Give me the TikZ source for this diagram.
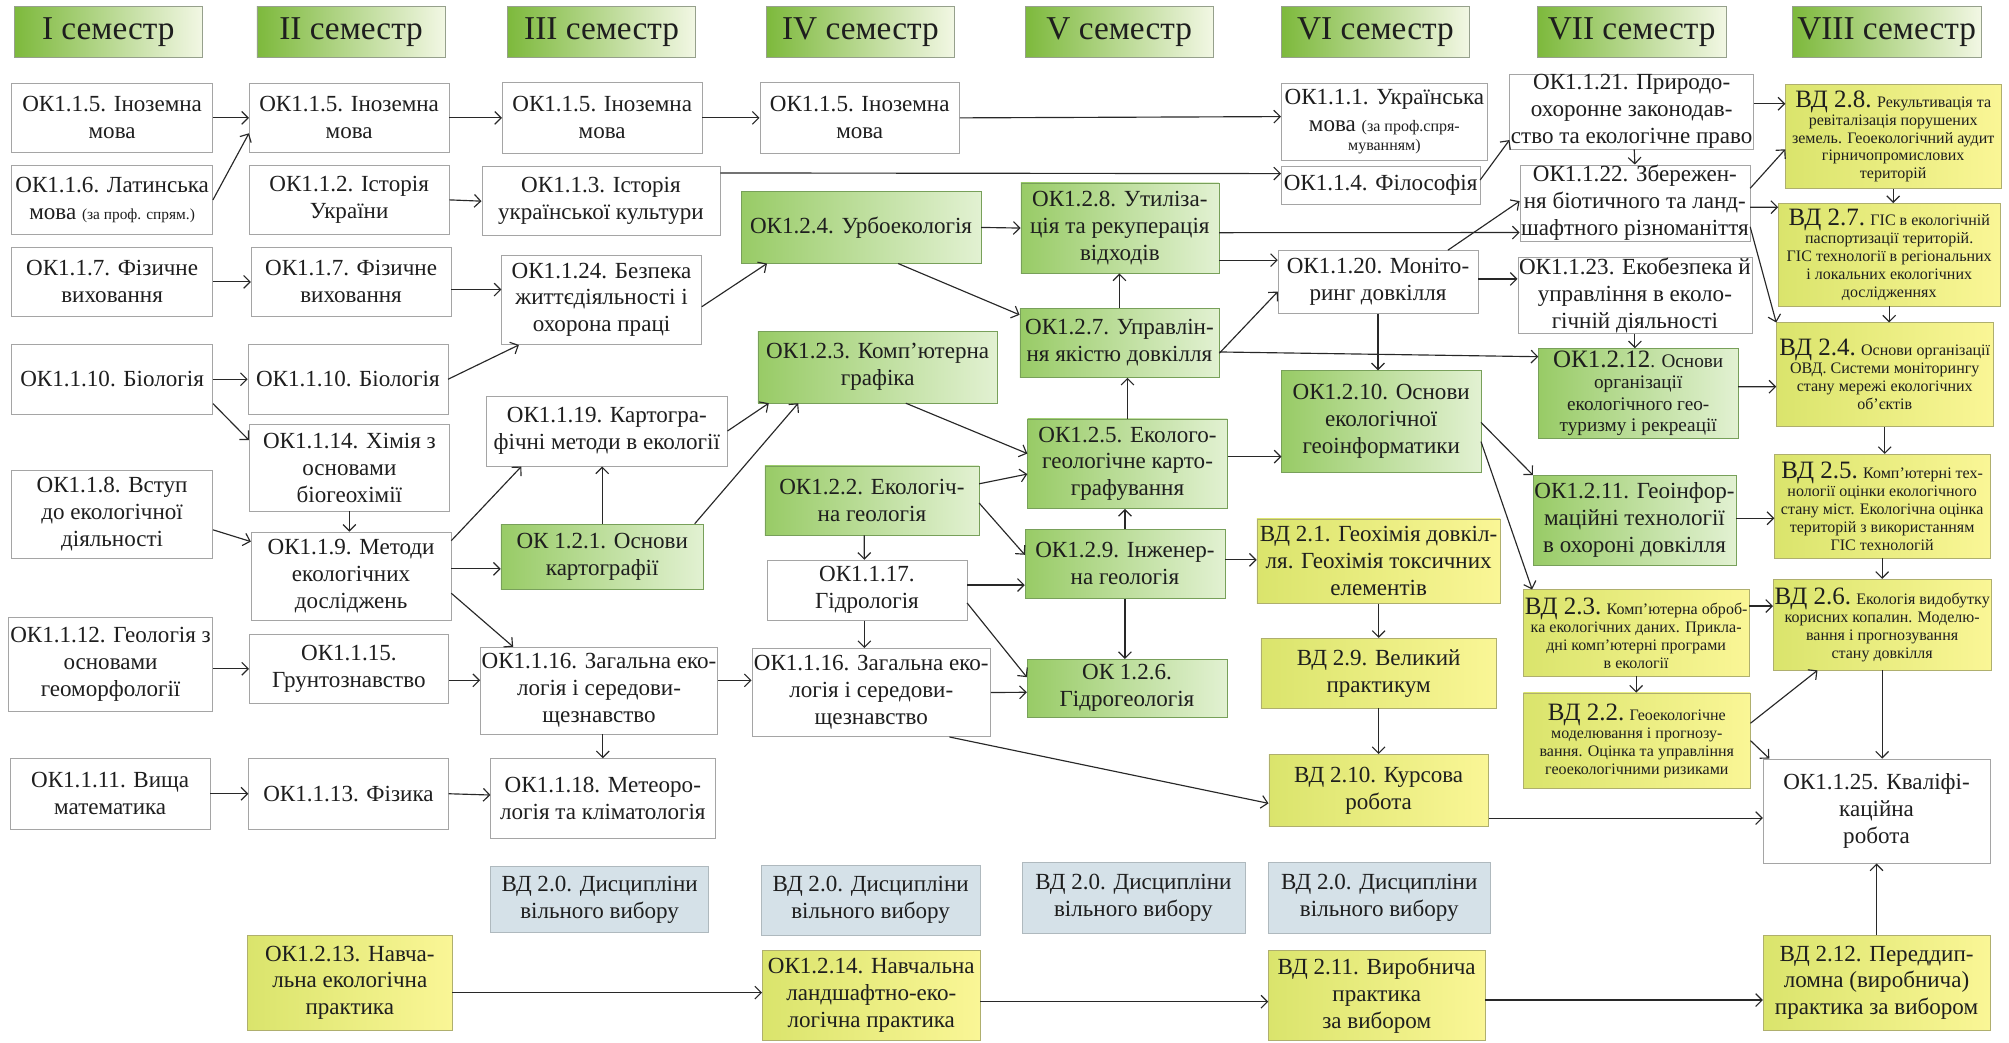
\documentclass[tikz,border=0pt]{standalone}
\usepackage{fontspec}
\setmainfont{Liberation Serif}
\usetikzlibrary{arrows.meta}
\definecolor{lin}{RGB}{40,40,40}
\definecolor{txt}{RGB}{30,30,30}
\definecolor{wline}{RGB}{165,165,165}
\definecolor{gline}{RGB}{120,160,90}
\definecolor{g1}{RGB}{152,203,102}
\definecolor{g2}{RGB}{226,241,210}
\definecolor{hline}{RGB}{150,160,140}
\definecolor{h1}{RGB}{125,185,60}
\definecolor{h2}{RGB}{242,247,228}
\definecolor{yline}{RGB}{175,175,110}
\definecolor{y1}{RGB}{218,228,108}
\definecolor{y2}{RGB}{250,246,150}
\definecolor{bline}{RGB}{175,185,190}
\definecolor{bfill}{RGB}{213,225,232}
\newcommand{\fmain}{\rmfamily\fontsize{18}{21}\selectfont}
\newcommand{\fsm}{\rmfamily\fontsize{12.5}{14}\selectfont}
\newcommand{\fmd}{\rmfamily\fontsize{15}{16.5}\selectfont}
\newcommand{\fbig}{\rmfamily\fontsize{19.5}{22}\selectfont}
\newcommand{\fhead}{\rmfamily\fontsize{26}{28}\selectfont}

\begin{document}
\begin{tikzpicture}[x=1pt,y=-1pt,
  sz/.style 2 args={minimum width=#1pt,minimum height=#2pt},
  box/.style={draw=wline,fill=white,text=txt,align=center,inner xsep=1pt,inner ysep=0.5pt,font=\fmain},
  ok/.style={box,draw=gline,left color=g1,right color=g2},
  vd/.style={box,draw=yline,left color=y1,right color=y2},
  free/.style={box,draw=bline,fill=bfill},
  sem/.style={box,draw=hline,left color=h1,right color=h2,sz={147}{40},font=\fhead},
  arr/.style={draw=lin,line width=0.9pt,-{Straight Barb[length=5pt,width=10pt]}}]
\useasboundingbox (0,0) rectangle (1568,814);
\foreach \n/\x in {I/84.5,II/274,III/469.5,IV/671.5,V/873.5,VI/1073.5,VII/1273.5,VIII/1472.5}
  \node[sem] (s\n) at (\x,25) {\n\ семестр};

\node[box,sz={157}{54}] (A1) at (87.5,92) {ОК1.1.5. Іноземна\\мова};
\node[box,sz={157}{54}] (A2) at (87.5,156) {ОК1.1.6. Латинська\\мова {\fontsize{12}{14}\selectfont (за проф. спрям.)}};
\node[box,sz={157}{54}] (A3) at (87.5,220) {ОК1.1.7. Фізичне\\виховання};
\node[box,sz={157}{55}] (A4) at (87.5,296) {ОК1.1.10. Біологія};
\node[box,sz={157}{69}] (A5) at (87.5,401.5) {ОК1.1.8. Вступ\\до екологічної\\діяльності};
\node[box,sz={159.5}{74}] (A6) at (86.3,518.5) {ОК1.1.12. Геологія з\\основами\\геоморфології};
\node[box,sz={156}{55}] (A7) at (86,619.5) {ОК1.1.11. Вища\\математика};

\node[box,sz={156}{54}] (B1) at (272.5,92) {ОК1.1.5. Іноземна\\мова};
\node[box,sz={156}{54}] (B2) at (272.5,156) {ОК1.1.2. Історія\\України};
\node[box,sz={156}{54}] (B3) at (274,220) {ОК1.1.7. Фізичне\\виховання};
\node[box,sz={156}{55}] (B4) at (271.5,296) {ОК1.1.10. Біологія};
\node[box,sz={156.5}{68}] (B5) at (272.7,365) {ОК1.1.14. Хімія з\\основами\\біогеохімії};
\node[box,sz={156}{69}] (B6) at (274,449.7) {ОК1.1.9. Методи\\екологічних\\досліджень};
\node[box,sz={155.5}{54.5}] (B7) at (272.3,522) {ОК1.1.15.\\Грунтознавство};
\node[box,sz={156}{55}] (B8) at (272,619.5) {ОК1.1.13. Фізика};
\node[vd,sz={159.5}{74}] (B9) at (273,767) {ОК1.2.13. Навча-\\льна екологічна\\практика};

\node[box,sz={156}{55}] (C1) at (470,92) {ОК1.1.5. Іноземна\\мова};
\node[box,sz={186}{54}] (C2) at (469,157) {ОК1.1.3. Історія\\української культури};
\node[box,sz={156}{70}] (C3) at (469.5,234) {ОК1.1.24. Безпека\\життєдіяльності і\\охорона праці};
\node[box,sz={188}{55}] (C4) at (473.6,336.4) {ОК1.1.19. Картогра-\\фічні методи в екології};
\node[ok,sz={158}{51}] (C5) at (470,434.5) {ОК 1.2.1. Основи\\картографії};
\node[box,sz={183}{68}] (C6) at (467.5,539) {ОК1.1.16. Загальна еко-\\логія і середови-\\щезнавство};
\node[box,sz={175}{62}] (C7) at (470.5,623) {ОК1.1.18. Метеоро-\\логія та кліматологія};
\node[free,sz={170}{51.5}] (C8) at (468,702) {ВД 2.0. Дисципліни\\вільного вибору};

\node[box,sz={156}{55}] (D1) at (671,92) {ОК1.1.5. Іноземна\\мова};
\node[ok,sz={187}{56}] (D2) at (672,177.5) {ОК1.2.4. Урбоекологія};
\node[ok,sz={187}{56}] (D3) at (685,286.5) {ОК1.2.3. Комп’ютерна\\графіка};
\node[ok,sz={167}{54}] (D4) at (680.5,390.6) {ОК1.2.2. Екологіч-\\на геологія};
\node[box,sz={156}{47}] (D5) at (676.6,460.6) {ОК1.1.17.\\Гідрологія};
\node[box,sz={186.5}{69}] (D6) at (680,540.5) {ОК1.1.16. Загальна еко-\\логія і середови-\\щезнавство};
\node[free,sz={171}{55}] (D7) at (679.5,702.5) {ВД 2.0. Дисципліни\\вільного вибору};
\node[vd,sz={170}{70}] (D8) at (680,777) {ОК1.2.14. Навчальна\\ландшафтно-еко-\\логічна практика};

\node[ok,sz={154.5}{70.5}] (E1) at (874,178) {ОК1.2.8. Утиліза-\\ція та рекуперація\\відходів};
\node[ok,sz={155.5}{54}] (E2) at (873.7,267.7) {ОК1.2.7. Управлін-\\ня якістю довкілля};
\node[ok,sz={156}{70}] (E3) at (880,362) {ОК1.2.5. Еколого-\\геологічне карто-\\графування};
\node[ok,sz={156}{54}] (E4) at (878,440) {ОК1.2.9. Інженер-\\на геологія};
\node[ok,sz={156}{45}] (E5) at (879.6,537) {ОК 1.2.6.\\Гідрогеологія};
\node[free,sz={174}{55}] (E6) at (884.6,700.7) {ВД 2.0. Дисципліни\\вільного вибору};

\node[box,sz={161}{60}] (F1) at (1080.5,95) {ОК1.1.1. Українська\\мова {\fsm (за проф.спря-}\\[-6pt]{\fsm муванням)}};
\node[box,sz={155}{29.5}] (F2) at (1077.5,144.5) {ОК1.1.4. Філософія};
\node[box,sz={156}{49}] (F3) at (1075.5,220) {ОК1.1.20. Моніто-\\ринг довкілля};
\node[ok,sz={155.4}{79}] (F4) at (1078,328.7) {ОК1.2.10. Основи\\екологічної\\геоінформатики};
\node[vd,sz={190}{66}] (F5) at (1076,438) {ВД 2.1. Геохімія довкіл-\\ля. Геохімія токсичних\\елементів};
\node[vd,sz={184}{54.7}] (F6) at (1076,525.4) {ВД 2.9. Великий\\практикум};
\node[vd,sz={171.5}{56.5}] (F7) at (1076,617) {ВД 2.10. Курсова\\робота};
\node[free,sz={173}{55}] (F8) at (1076.5,700.5) {ВД 2.0. Дисципліни\\вільного вибору};
\node[vd,sz={169}{70}] (F9) at (1074.5,777) {ВД 2.11. Виробнича\\практика\\за вибором};

\node[box,sz={181.5}{54}] (G1) at (1273.5,87) {ОК1.1.21. Природо-\\охоронне законодав-\\ство та екологічне право};
\node[box,sz={174}{57}] (G2) at (1276,158.5) {ОК1.1.22. Збережен-\\ня біотичного та ланд-\\шафтного різноманіття};
\node[box,sz={182}{59}] (G3) at (1276,230.5) {ОК1.1.23. Екобезпека й\\управління в еколо-\\гічній діяльності};
\node[ok,sz={155.6}{70},font=\fmd] (G4) at (1278.6,307) {{\fbig ОК1.2.12}. Основи\\організації\\екологічного гео-\\туризму і рекреації};
\node[ok,sz={157}{70}] (G5) at (1275.7,406) {ОК1.2.11. Геоінфор-\\маційні технології\\в охороні довкілля};
\node[vd,sz={176}{67.5},font=\fsm] (G6) at (1277,494) {{\fbig ВД 2.3.} Комп'ютерна оброб-\\ка екологічних даних. Прикла-\\дні комп'ютерні програми\\в екології};
\node[vd,sz={177}{74.5},font=\fsm] (G7) at (1277.5,578) {{\fbig ВД 2.2.} Геоекологічне\\моделювання і прогнозу-\\вання. Оцінка та управління\\геоекологічними ризиками};

\node[vd,sz={168}{81},font=\fsm] (H1) at (1477.6,106.5) {{\fbig ВД 2.8.} Рекультивація та\\ревіталізація порушених\\земель. Геоекологічний аудит\\гірничопромислових\\територій};
\node[vd,sz={173}{80},font=\fsm] (H2) at (1474.5,198.7) {{\fbig ВД 2.7.} ГІС в екологічній\\паспортизації територій.\\ГІС технології в регіональних\\і локальних екологічних\\дослідженнях};
\node[vd,sz={169}{81},font=\fsm] (H3) at (1471,292.4) {{\fbig ВД 2.4.} Основи організації\\ОВД. Системи моніторингу\\стану мережі екологічних\\об'єктів};
\node[vd,sz={168}{81},font=\fsm] (H4) at (1469,395) {{\fbig ВД 2.5.} Комп'ютерні тех-\\нології оцінки екологічного\\стану міст. Екологічна оцінка\\територій з використанням\\ГІС технологій};
\node[vd,sz={170}{71},font=\fsm] (H5) at (1469,487.5) {{\fbig ВД 2.6.} Екологія видобутку\\корисних копалин. Моделю-\\вання і прогнозування\\стану довкілля};
\node[box,sz={177}{81.5}] (H6) at (1464.6,633) {ОК1.1.25. Кваліфі-\\каційна\\робота};
\node[vd,sz={177}{74}] (H7) at (1464.6,767) {ВД 2.12. Переддип-\\ломна (виробнича)\\практика за вибором};

\foreach \a/\b in {A1/B1,A3/B3,A4/B4,A7/B8,B1/C1,B2/C2,C1/D1,D2/E1}
  \draw[arr] (\a.east) -- (\b.west);
\foreach \a/\b in {B5/B6,E4/E5,F3/F4,F5/F6,F6/F7,G3/G4,G6/G7,H1/H2,H2/H3,H3/H4,H4/H5,H5/H6}
  \draw[arr] (\a.south) -- (\a.south |- \b.north);
\foreach \a/\b in {C5/C4,E2/E1,E3/E2,E4/E3,H7/H6}
  \draw[arr] (\a.north) -- (\a.north |- \b.south);

\draw[arr] (A2.east) -- ([yshift=-12pt]B1.west);
\draw[arr] ([yshift=-19pt]A4.east) -- ([yshift=21.5pt]B5.west);
\draw[arr] ([yshift=-12pt]A5.east) -- ([yshift=27pt]B6.west);
\draw[arr] ([yshift=-3.5pt]A6.east) -- (B7.west);
\draw[arr] ([yshift=-6pt]B3.east) -- ([yshift=8pt]C3.west);
\draw[arr] (B4.east) -- ([xshift=-64.5pt]C3.south);
\draw[arr] ([yshift=27.7pt]B6.east) -- ([xshift=-66.7pt]C4.south);
\draw[arr] ([yshift=5.7pt]B6.east) -- ([yshift=-9.5pt]C5.west);
\draw[arr] ([yshift=-13.3pt]B6.east) -- ([xshift=-67pt]C6.north);
\draw[arr] ([yshift=-9pt]B7.east) -- ([yshift=8pt]C6.west);
\draw[arr] (B8.east) -- ([yshift=2.5pt]C7.west);
\draw[arr] ([yshift=-7.7pt]B9.east) -- ([yshift=2.3pt]D8.west);
\draw[arr] ([yshift=22pt]C2.east) -- ([yshift=9pt]F2.west);
\draw[arr] ([yshift=-5.4pt]C3.east) -- ([xshift=-73.4pt]D2.south);
\draw[arr] (C4.east) -- ([xshift=-85pt]D3.south);
\draw[arr] ([xshift=-7pt]C5.north east) -- ([xshift=-62pt]D3.south);
\draw[arr] ([xshift=3pt]C6.south) -- (C7.north);
\draw[arr] ([yshift=8pt]C6.east) -- ([yshift=9.5pt]D6.west);
\draw[arr] (D1.east) -- ([yshift=4pt]F1.west);
\draw[arr] ([xshift=29pt]D2.south) -- ([yshift=22pt]E2.west);
\draw[arr] ([xshift=22pt]D3.south) -- ([yshift=8pt]E3.west);
\draw[arr] ([yshift=13pt]D4.east) -- ([yshift=-8pt]E3.west);
\draw[arr] ([yshift=-2pt]D4.east) -- ([yshift=7pt]E4.west);
\draw[arr] ([xshift=-6pt]D4.south) -- ([xshift=-2pt]D5.north);
\draw[arr] ([yshift=4pt]D5.east) -- ([yshift=-16.6pt]E4.west);
\draw[arr] ([xshift=-2pt]D5.south) -- ([xshift=-5.4pt]D6.north);
\draw[arr] ([yshift=-10pt]D5.east) -- ([yshift=8.5pt]E5.west);
\draw[arr] (D6.east) -- ([yshift=-3.3pt]E5.west);
\draw[arr] ([xshift=61pt]D6.south) -- ([yshift=-10pt]F7.west);
\draw[arr] ([yshift=-4.8pt]D8.east) -- ([yshift=-4.8pt]F9.west);
\draw[arr] ([yshift=-3.6pt]E1.east) -- ([yshift=-23pt]G2.west);
\draw[arr] ([yshift=-25pt]E1.east) -- ([yshift=17pt]F3.west);
\draw[arr] ([yshift=-8pt]E2.east) -- ([yshift=-7.6pt]F3.west);
\draw[arr] ([yshift=-7pt]E2.east) -- ([yshift=28.6pt]G4.west);
\draw[arr] ([yshift=5.6pt]E3.east) -- ([yshift=-27.7pt]F4.west);
\draw[arr] ([yshift=3pt]E4.east) -- ([yshift=1pt]F5.west);
\draw[arr] ([yshift=4pt]F2.east) -- ([yshift=-22.3pt]G1.west);
\draw[arr] ([xshift=54.5pt]F3.north) -- ([yshift=1.5pt]G2.west);
\draw[arr] ([yshift=2.3pt]F3.east) -- ([yshift=12.8pt]G3.west);
\draw[arr] ([yshift=-1pt]F4.east) -- (G5.north west);
\draw[arr] ([yshift=-16pt]F4.east) -- ([xshift=7pt]G6.north west);
\draw[arr] ([yshift=-21.5pt]F7.east) -- ([yshift=-5.5pt]H6.west);
\draw[arr] ([yshift=-3.5pt]F9.east) -- ([yshift=-13.5pt]H7.west);
\draw[arr] ([yshift=6pt]G1.east) -- ([yshift=25.5pt]H1.west);
\draw[arr] ([xshift=2pt]G1.south) -- (G2.north);
\draw[arr] ([yshift=11.5pt]G2.east) -- ([yshift=-10pt]H1.west);
\draw[arr] ([yshift=-3.3pt]G2.east) -- ([yshift=37pt]H2.west);
\draw[arr] ([yshift=-18.5pt]G2.east) -- (H3.north west);
\draw[arr] ([yshift=5.2pt]G4.east) -- ([yshift=-9.4pt]H3.west);
\draw[arr] ([yshift=1.5pt]G5.east) -- ([yshift=-9.5pt]H4.west);
\draw[arr] ([yshift=21pt]G6.east) -- ([yshift=14.5pt]H5.west);
\draw[arr] ([yshift=13.5pt]G7.east) -- ([xshift=-50.5pt]H5.south);
\draw[arr] (G7.east) -- ([xshift=5pt]H6.north west);
\end{tikzpicture}
\end{document}
